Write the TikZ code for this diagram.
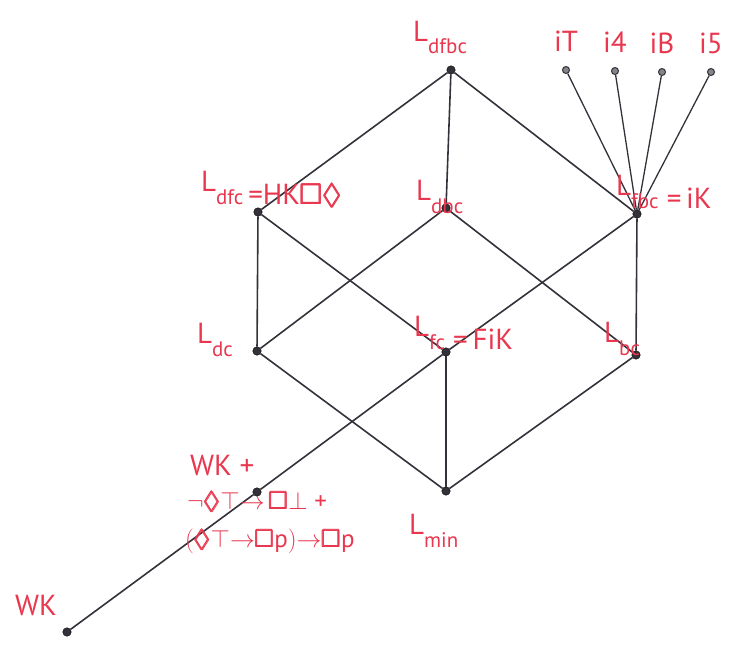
\documentclass[tikz,border=0pt]{standalone}
\usepackage{amsmath,amssymb}
\usepackage{fontspec}
\setmainfont{PT Sans}
\usetikzlibrary{positioning}
\definecolor{ink}{HTML}{E8374E}
\definecolor{pencil}{HTML}{35313A}
% L with a lowered index, and an optional tail on the index line
\newcommand{\Ln}[2][]{L\raisebox{-13pt}{{\fontsize{21}{21}\selectfont #2}#1}}
\newcommand{\bx}{\pmb{\Box}}
\newcommand{\dm}{\pmb{\Diamond}}

\begin{document}
\begin{tikzpicture}[x=1pt, y=-1pt, node distance=12pt,
  world/.style={circle, draw=black, fill=pencil, inner sep=0pt, minimum size=8.5pt},
  iworld/.style={circle, draw=pencil, fill=pencil!60, line width=1pt, inner sep=0pt, minimum size=7pt},
  link/.style={draw=pencil, line width=1.6pt},
  tag/.style={text=ink, inner sep=0pt, anchor=base west, font=\fontsize{29}{31}\selectfont}]
  \useasboundingbox (0,0) rectangle (753,645);

  % the cube of logics
  \node[world] (dfbc) at (451,70) {};
  \node[world] (dfc) at (258,212) {};
  \node[world] (dbc) at (446,208) {};
  \node[world] (fbc) at (637,214) {};
  \node[world] (dc) at (257,351) {};
  \node[world] (fc) at (446,352) {};
  \node[world] (bc) at (636,355) {};
  \node[world] (min) at (446,491) {};
  \node[world] (wkp) at (257,492) {};
  \node[world] (wk) at (67,632) {};

  \node[iworld] (iT) at (566,70) {};
  \node[iworld] (i4) at (615,71) {};
  \node[iworld] (iB) at (662,72) {};
  \node[iworld] (i5) at (711,72) {};

  \draw[link] (dfbc) -- (dfc);
  \draw[link] (dfbc) -- (dbc);
  \draw[link] (dfbc) -- (fbc);
  \draw[link] (dfc) -- (dc);
  \draw[link] (dfc) -- (fc);
  \draw[link] (dbc) -- (dc);
  \draw[link] (dbc) -- (bc);
  \draw[link] (fbc) -- (bc);
  \draw[link] (fbc) -- (fc) -- (wkp) -- (wk);
  \draw[link] (dc) -- (min);
  \draw[link] (fc) -- (min);
  \draw[link] (bc) -- (min);
  \foreach \i in {iT,i4,iB,i5}
    \draw[link, line width=1.3pt] (fbc) -- (\i);

  % names
  \node[tag] (ldfbc) at (413,41) {\Ln{dfbc}};
  \node[tag] (ldfc) at (201,191) {\Ln[\,=HK$\bx\dm$]{dfc}};
  \node[tag] (ldbc) at (416,200) {\Ln{dbc}};
  \node[tag] (lfbc) at (616,195) {\Ln[\;=\,iK]{fbc}};
  \node[tag] (ldc) at (197,343) {\Ln{dc}};
  \node[tag] (lfc) at (414,336) {\Ln[\;=\,FiK]{fc}};
  \node[tag] (lbc) at (604,342) {\Ln{bc}};
  \node[tag] (lmin) at (409,534) {\Ln{min}};
  \node[tag] (lwkp) at (190,475) {WK +};
  \node[tag, font=\fontsize{25}{27}\selectfont] (lax1) at (187,509)
    {$\neg\dm\top{\to}\,\bx\bot$ +};
  \node[tag, font=\fontsize{25}{27}\selectfont] (lax2) at (185,547)
    {$(\dm\top{\to}\bx\mathrm{p}){\to}\bx\mathrm{p}$};
  \node[tag] (lwk) at (15,615) {WK};

  \node[tag, anchor=base, above=14pt of iT] (liT) {iT};
  \node[tag, anchor=base, above=14pt of i4] (li4) {i4};
  \node[tag, anchor=base, above=14pt of iB] (liB) {iB};
  \node[tag, anchor=base, above=14pt of i5] (li5) {i5};
\end{tikzpicture}
\end{document}
